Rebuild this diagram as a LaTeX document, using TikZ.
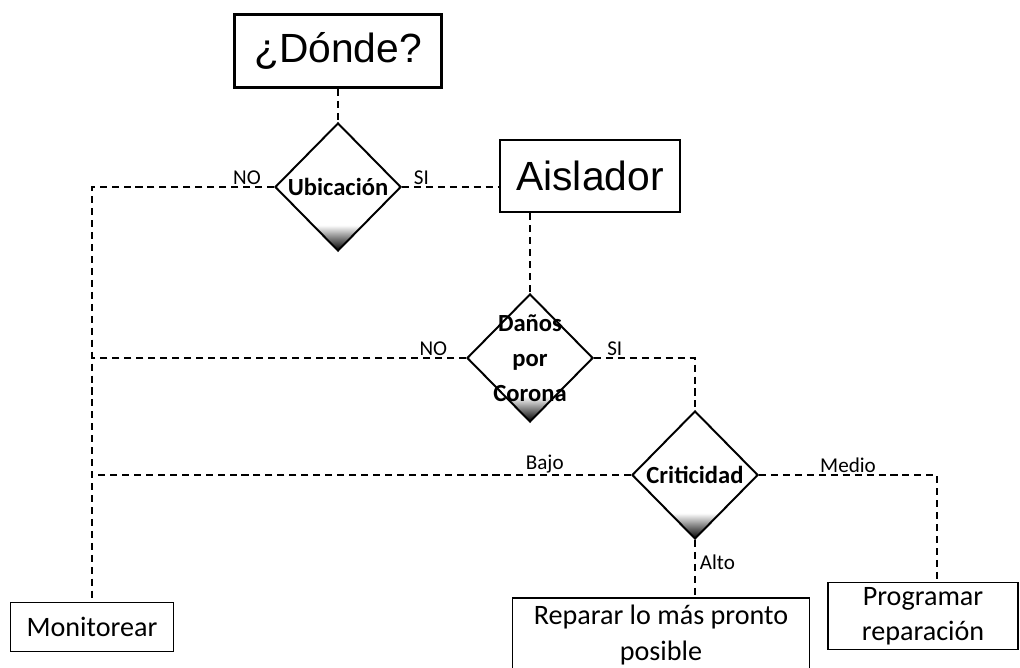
\documentclass[tikz,border=0pt]{standalone}
\usepackage{fontspec}
\setmainfont{Carlito}
\newfontfamily\arialfont{Liberation Sans}
\usepackage{tikz}
\usetikzlibrary{positioning, calc, shapes.geometric}
\pgfdeclareverticalshading{diamondfade}{100bp}{color(0bp)=(black!90); color(26bp)=(black!90); color(35bp)=(white); color(100bp)=(white)}

\begin{document}
\begin{tikzpicture}[x=0.025cm, y=-0.025cm,
    bigbox/.style={draw, line width=1.9pt, inner sep=0pt, font=\arialfont\fontsize{29}{33}\selectfont},
    endbox/.style={draw, line width=0.8pt, inner sep=0pt, align=center, font=\fontsize{20}{25}\selectfont},
    decision/.style={diamond, draw, line width=1.4pt, inner sep=0pt, minimum width=3.15cm, minimum height=3.2cm, shading=diamondfade},
    dtext/.style={font=\bfseries\fontsize{17.5}{25}\selectfont, align=center},
    conn/.style={line width=0.9pt, dash pattern=on 5pt off 3.5pt},
    lbl/.style={font=\fontsize{15}{18}\selectfont, inner sep=1pt}]
    \useasboundingbox (0,0) rectangle (1020,668);

    \node[bigbox, minimum width=5.18cm, minimum height=1.83cm] (donde) at (338,51) {¿Dónde?};
    \node[decision, label={[dtext]center:Ubicación}] (ubic) at (338,187) {};
    \node[bigbox, minimum width=4.5cm, minimum height=1.8cm] (aisl) at (590,176) {Aislador};
    \node[decision, label={[dtext]center:Daños\\por\\Corona}] (danos) at (530,358) {};
    \node[decision, label={[dtext]center:Criticidad}] (crit) at (695,475) {};

    \node[endbox, minimum width=4.08cm, minimum height=1.23cm] (mon) at (92,627) {Monitorear};
    \node[endbox, minimum width=7.43cm, minimum height=1.85cm] (rep) at (661,635) {Reparar lo más pronto\\posible};
    \node[endbox, minimum width=4.75cm, minimum height=1.68cm] (prog) at (923,616) {Programar\\reparación};

    \draw[conn] (donde.south) -- (ubic.north);
    \draw[conn] (ubic.west) node[lbl, anchor=south east, xshift=-8pt] (no1) {NO} -| (mon.north);
    \draw[conn] (ubic.east) node[lbl, anchor=south west, xshift=7pt] (si1) {SI} -- (ubic.east -| aisl.west);
    \draw[conn] (danos.north |- aisl.south) -- (danos.north);
    \draw[conn] (danos.west) node[lbl, anchor=south east, xshift=-12pt] (no2) {NO} -- (danos.west -| mon.north);
    \draw[conn] (danos.east) node[lbl, anchor=south west, xshift=8pt] (si2) {SI} -| (crit.north);
    \draw[conn] (crit.west) -- node[lbl, pos=0.16, above] (bajo) {Bajo} (crit.west -| mon.north);
    \draw[conn] (crit.east) -| node[lbl, pos=0.25, above] (medio) {Medio} ($(prog.north)+(14,0)$);
    \draw[conn] (crit.south) -- node[lbl, pos=0.38, right=2pt] (alto) {Alto} (crit.south |- rep.north);
  \end{tikzpicture}
\end{document}
